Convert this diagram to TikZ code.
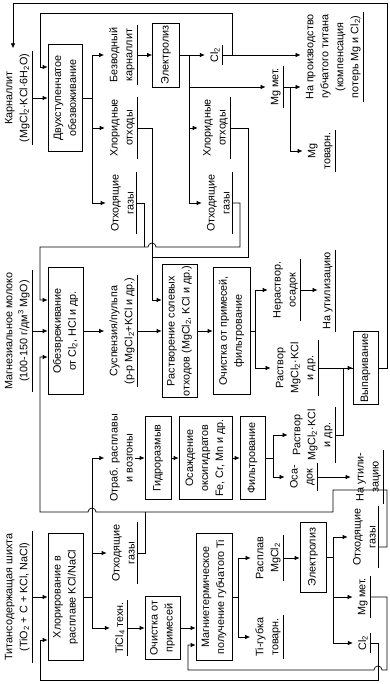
\documentclass[tikz,border=0pt]{standalone}
\usepackage{fontspec}
\setmainfont{Liberation Sans}
\usetikzlibrary{arrows.meta,calc}

\newcommand{\dfont}{\fontsize{10.8}{15}\selectfont}
\newcommand{\undl}[1]{\draw (#1.south west) -- (#1.south east);}

\tikzset{
  box/.style={draw, rotate=90, align=center, inner sep=1pt},
  lbl/.style={rotate=90, align=center, anchor=south, inner xsep=2pt, inner ysep=2pt},
  arr/.style={-{Latex[length=5pt,width=4.5pt]}},
  arl/.style={arr, shorten >=3pt},
}

\begin{document}
\begin{tikzpicture}[x=1pt, y=-1pt, line width=0.7pt, every node/.style={font=\dfont}]
\useasboundingbox (0,0) rectangle (389,684);

% carnallite line
\node[lbl] (carn) at (32,98) {Карналлит\\(MgCl\textsubscript{2}·KCl·6H\textsubscript{2}O)};
\node[box, minimum width=107pt, minimum height=34pt] (dehyd) at (65,98) {Двухступенчатое\\обезвоживание};
\node[lbl] (anhyd) at (137,55) {Безводный\\карналлит};
\node[lbl] (chwa) at (137,128) {Хлоридные\\отходы};
\node[lbl] (gasa) at (136,203) {Отходящие\\газы};
\node[box, minimum width=64pt, minimum height=27pt] (elca) at (166,55) {Электролиз};
\node[lbl] (cla) at (222,55) {Cl\textsubscript{2}};
\node[lbl] (chwb) at (230,128) {Хлоридные\\отходы};
\node[lbl] (gasb) at (232,203) {Отходящие\\газы};
\node[lbl] (mga) at (283,87) {Mg мет.};
\node[lbl] (tiprod) at (363,57) {На производство\\губчатого титана\\(компенсация\\потерь Mg и Cl\textsubscript{2})};
\node[lbl] (mgcom) at (335,151) {Mg\\товарн.};

% magnesia milk line
\node[lbl] (milk) at (32,331) {Магнезиальное молоко\\(100-150 г/дм\textsuperscript{3} MgO)};
\node[box, minimum width=127pt, minimum height=35pt] (neutr) at (65.5,331) {Обезвреживание\\от Cl\textsubscript{2}, HCl и др.};
\node[lbl] (susp) at (137,331) {Суспензия/пульпа\\(р-р MgCl\textsubscript{2}+KCl и др.)};
\node[box, minimum width=128pt, minimum height=35pt] (dissol) at (179.5,331) {Растворение солевых\\отходов (MgCl\textsubscript{2}, KCl и др.)};
\node[box, minimum width=127pt, minimum height=37pt] (purif) at (231.5,331) {Очистка от примесей,\\фильтрование};
\node[lbl] (insol) at (300,290) {Нераствор.\\осадок};
\node[lbl] (utila) at (335,291) {На утилизацию};
\node[lbl] (sola) at (318,368) {Раствор\\MgCl\textsubscript{2}·KCl\\и др.};
\node[box, minimum width=73pt, minimum height=25pt] (evap) at (365.5,368) {Выпаривание};

% titanium line
\node[lbl] (charge) at (32,597) {Титансодержащая шихта\\(TiO\textsubscript{2} + C + KCl, NaCl)};
\node[box, minimum width=127pt, minimum height=35pt] (chlor) at (65.5,597) {Хлорирование в\\расплаве KCl/NaCl};
\node[lbl] (spent) at (135,458) {Отраб. расплавы\\и возгоны};
\node[lbl] (gasc) at (137,553) {Отходящие\\газы};
\node[lbl] (ticl) at (127,628) {TiCl\textsubscript{4} техн.};
\node[box, minimum width=83pt, minimum height=26pt] (hydro) at (158,458) {Гидроразмыв};
\node[box, minimum width=83pt, minimum height=53pt] (precip) at (205.5,458) {Осаждение\\оксигидратов\\Fe, Cr, Mn и др.};
\node[box, minimum width=83pt, minimum height=25pt] (filt) at (252.5,458) {Фильтрование};
\node[lbl] (solb) at (335,435) {Раствор\\MgCl\textsubscript{2}·KCl\\и др.};
\node[lbl] (osad) at (317,477) {Оса-\\док};
\node[lbl] (utilb) at (383,477) {На утили-\\зацию};
\node[box, minimum width=63pt, minimum height=35pt] (clean) at (162.5,628) {Очистка от\\примесей};
\node[box, minimum width=127pt, minimum height=36pt] (mgred) at (214,597) {Магниетермическое\\получение губчатого Ti};
\node[lbl] (melt) at (283,558) {Расплав\\MgCl\textsubscript{2}};
\node[lbl] (tisp) at (283,637) {Ti-губка\\товарн.};
\node[box, minimum width=70pt, minimum height=26pt] (elcb) at (313,557) {Электролиз};
\node[lbl] (gasd) at (378,537) {Отходящие\\газы};
\node[lbl] (mgb) at (370,597) {Mg мет.};
\node[lbl] (clb) at (370,643) {Cl\textsubscript{2}};

% underlines
\foreach \n in {carn,anhyd,chwa,gasa,cla,chwb,gasb,mga,tiprod,mgcom,milk,susp,insol,utila,sola,
  charge,gasc,ticl,solb,osad,utilb,melt,tisp,gasd,mgb,clb}
  {\undl{\n}}

% carnallite line connectors
\draw[arr] (carn.south) -- (dehyd.north);
\draw (dehyd.south) -- ++(10,0) coordinate (bsa);
\draw (bsa |- anhyd.north) -- (bsa |- gasa.north);
\draw[arl] (bsa |- anhyd.north) -- (anhyd.north);
\draw[arl] (bsa |- chwa.north) -- (chwa.north);
\draw[arl] (bsa |- gasa.north) -- (gasa.north);
\draw[arr] (anhyd.south) -- (anhyd.south -| elca.north);
\draw[arl] (elca.south) -- (cla.north);
\coordinate (bsb) at ($(elca.south)+(9,0)$);
\draw (bsb |- cla.north) -- (bsb |- gasb.north);
\draw[arl] (bsb |- mga.north) -- (mga.north);
\draw[arl] (bsb |- chwb.north) -- (chwb.north);
\draw[arl] (bsb |- gasb.north) -- (gasb.north);
\draw[arl] (cla.south) -- (cla.south -| tiprod.north);
\draw[arr] (cla.south) -- ++(10,0) |- (40,13) |- (dehyd.north |- 0,67);
\draw[arl] (mga.south) -- (mga.south -| tiprod.north);
\draw[arl] (mga.south) -- ++(7,0) |- (mgcom.north);

% chloride wastes and off-gases
\draw[arr] (chwa.south) -- ++(15,0) coordinate (cw) |- (dissol.north |- 0,300);
\draw (chwb.south) -- ++(18,0) |- (cw |- 0,257);
\draw (gasa.south) -- ++(8,0) -- ++(0,44);
\draw[arr] (gasb.south) -- ++(8,0) |- ($(cw |- 0,247)+(4,0)$)
  arc[start angle=0, end angle=-180, radius=4] -- (40,247) |- (neutr.north |- 0,300);

% magnesia milk line connectors
\draw[arr] (milk.south) -- (milk.south -| neutr.north);
\draw[arl] (neutr.south) -- (neutr.south -| susp.north);
\draw[arr] (susp.south) -- (susp.south -| dissol.north);
\draw[arr] (dissol.south) -- (dissol.south -| purif.north);
\draw (purif.south) -- ++(5,0) coordinate (bsc);
\draw (bsc |- insol.north) -- (bsc |- sola.north);
\draw[arl] (bsc |- insol.north) -- (insol.north);
\draw[arl] (bsc |- sola.north) -- (sola.north);
\draw[arl] (insol.south) -- (insol.south -| utila.north);
\draw[arr] (sola.south) -- (sola.south -| evap.north);
\draw (solb.south) -- ++(8,0) |- (evap.north);
\draw[arl] (evap.south) -- ++(9,0) |- (13,3) -- (13,0 |- carn.east);

% titanium line connectors
\draw[arr] (charge.south) -- (charge.south -| chlor.north);
\draw (chlor.south) -- ++(9,0) coordinate (bsd);
\draw (bsd |- spent.north) -- (bsd |- ticl.north);
\draw[arl] (bsd |- spent.north) -- (spent.north);
\draw[arl] (bsd |- gasc.north) -- (gasc.north);
\draw[arl] (bsd |- ticl.north) -- (ticl.north);
\draw[arr] (spent.south) -- (spent.south -| hydro.north);
\draw[arr] (hydro.south) -- (precip.north);
\draw[arr] (precip.south) -- (filt.north);
\draw (filt.south) -- ++(8,0) coordinate (bse);
\draw (bse |- solb.north) -- (bse |- osad.north);
\draw[arl] (bse |- solb.north) -- (solb.north);
\draw[arl] (bse |- osad.north) -- (osad.north);
\draw[arl] (osad.south) -- (osad.south -| utilb.north);
\draw[arr] (ticl.south) -- (ticl.south -| clean.north);
\draw[arr] (clean.south) -- (clean.south -| mgred.north);
\draw (mgred.south) -- ++(6,0) coordinate (bsf);
\draw (bsf |- melt.north) -- (bsf |- tisp.north);
\draw[arl] (bsf |- melt.north) -- (melt.north);
\draw[arl] (bsf |- tisp.north) -- (tisp.north);
\draw[arr] (melt.south) -- (melt.south -| elcb.north);
\draw (elcb.south) -- ++(7,0) coordinate (bsg);
\draw (bsg |- gasd.north) -- (bsg |- clb.north);
\draw[arl] (bsg |- gasd.north) -- (gasd.north);
\draw[arl] (bsg |- mgb.north) -- (mgb.north);
\draw[arl] (bsg |- clb.north) -- (clb.north);

% recycle loops
\draw[arr] (gasd.south |- 0,547) -- ++(9,0) |- (333,490) |- (96,512)
  arc[start angle=0, end angle=-180, radius=4] -- (40,512) |- (neutr.north |- 0,357);
\draw (gasc.south) -- ++(8,0) -- ++(0,-41);
\draw[arr] (mgb.south) -- ++(17,0) |- (382,670)
  arc[start angle=0, end angle=-180, radius=4] -- (188,670) |- (mgred.north |- 0,645);
\draw[arr] (clb.south) -- ++(8,0) |- (40,680) |- (chlor.north |- 0,640);
\end{tikzpicture}
\end{document}
